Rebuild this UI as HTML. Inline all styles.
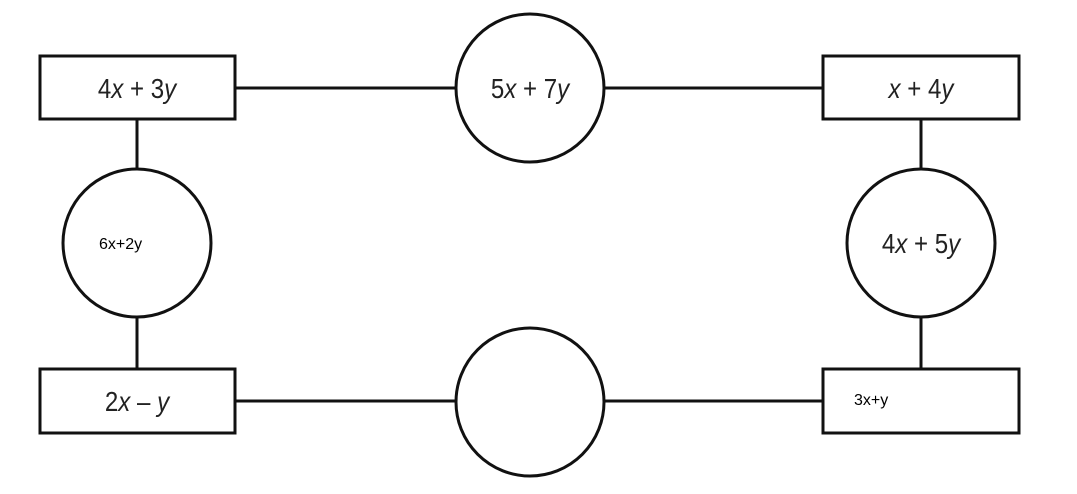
<!DOCTYPE html>
<html><head><style>
html,body{margin:0;padding:0;background:#fff;}
svg{display:block;}
.t{font-family:"Liberation Sans",sans-serif;font-size:28px;fill:#222;}
.s{font-family:"Liberation Sans",sans-serif;font-size:16px;fill:#000;}
</style></head><body>
<svg width="1077" height="494" viewBox="0 0 1077 494">
<g stroke="#111" stroke-width="3" fill="#fff">
<line x1="235" y1="88" x2="455" y2="88"/>
<line x1="605" y1="88" x2="823" y2="88"/>
<line x1="235" y1="401" x2="455" y2="401"/>
<line x1="605" y1="401" x2="823" y2="401"/>
<line x1="137" y1="119" x2="137" y2="169"/>
<line x1="137" y1="317" x2="137" y2="369"/>
<line x1="921" y1="119" x2="921" y2="169"/>
<line x1="921" y1="317" x2="921" y2="369"/>
<rect x="40" y="56" width="195" height="63"/>
<rect x="823" y="56" width="196" height="63"/>
<rect x="40" y="369" width="195" height="64"/>
<rect x="823" y="369" width="196" height="64"/>
<circle cx="530" cy="88" r="74"/>
<circle cx="530" cy="402" r="74"/>
<circle cx="137" cy="243" r="74"/>
<circle cx="921" cy="243" r="74"/>
</g>
<g text-anchor="middle">
<text class="t" x="137" y="98" transform="translate(137 0) scale(0.86 1) translate(-137 0)">4<tspan font-style="italic">x</tspan> + 3<tspan font-style="italic">y</tspan></text>
<text class="t" x="530" y="98" transform="translate(530 0) scale(0.86 1) translate(-530 0)">5<tspan font-style="italic">x</tspan> + 7<tspan font-style="italic">y</tspan></text>
<text class="t" x="921" y="98" transform="translate(921 0) scale(0.86 1) translate(-921 0)"><tspan font-style="italic">x</tspan> + 4<tspan font-style="italic">y</tspan></text>
<text class="t" x="921" y="253" transform="translate(921 0) scale(0.86 1) translate(-921 0)">4<tspan font-style="italic">x</tspan> + 5<tspan font-style="italic">y</tspan></text>
<text class="t" x="137" y="411" transform="translate(137 0) scale(0.86 1) translate(-137 0)">2<tspan font-style="italic">x</tspan> – <tspan font-style="italic">y</tspan></text>
</g>
<text class="s" x="99" y="249">6x+2y</text>
<text class="s" x="854" y="405">3x+y</text>
</svg>
</body></html>
